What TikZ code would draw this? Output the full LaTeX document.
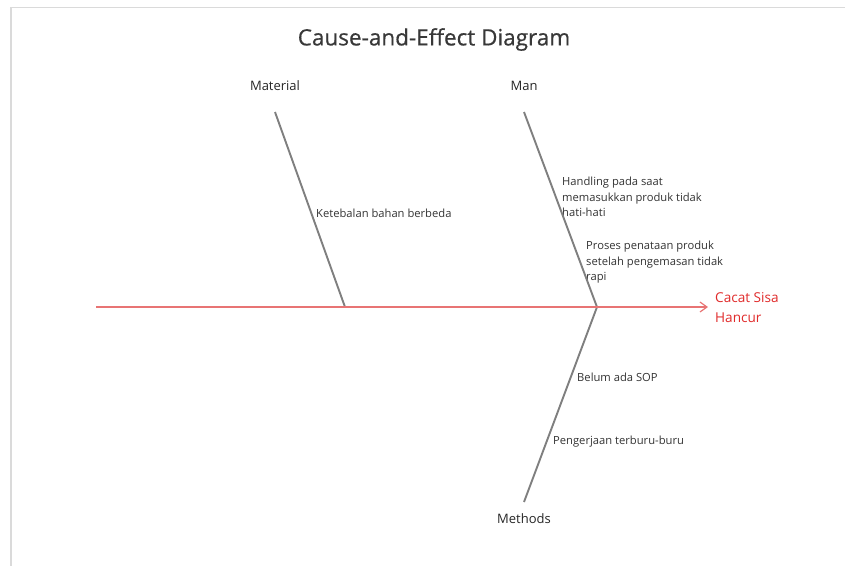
\documentclass[tikz,border=0pt]{standalone}
\usepackage{fontspec}
\setmainfont{Open Sans}
\newfontfamily\headingfont[FakeBold=0.6]{Open Sans}
\usepackage{xcolor}
\usepackage{tikz}
\usetikzlibrary{arrows.meta}
\definecolor{spinered}{HTML}{E87474}
\definecolor{effectred}{HTML}{E02A2A}
\definecolor{bonegray}{HTML}{7F7F7F}
\definecolor{framegray}{HTML}{DADADA}
\tikzstyle{title} = [font=\headingfont\fontsize{22.5}{26}\selectfont, text=black!78, inner sep=0pt]
\tikzstyle{category} = [font=\fontsize{13}{15}\selectfont, text=black!85, inner sep=0pt]
\tikzstyle{cause} = [font=\fontsize{11.2}{15.6}\selectfont, text=black!80, align=left,
    anchor=north west, inner sep=0pt]
\tikzstyle{effect} = [font=\fontsize{13.6}{20}\selectfont, text=effectred, align=left,
    anchor=north west, inner sep=0pt]
\tikzstyle{bone} = [draw, bonegray, line width=1.9pt]
\tikzstyle{spine} = [draw, spinered, line width=2pt, -{Straight Barb[length=7pt,width=10pt,line width=1.2pt]}]

\begin{document}
\begin{tikzpicture}[x=1pt, y=-1pt]
			\useasboundingbox (0,0) rectangle (845,566);
			% frame
			\draw [framegray, line width=1.2pt] (845,7.5) -- (11,7.5) -- (11,566);
			
			% Place nodes
			\node [title] (heading) at (434,39.5) {Cause-and-Effect Diagram};
			\node [category] (material) at (275,86) {Material};
			\node [category] (man) at (524,86) {Man};
			\node [category] (methods) at (524,519) {Methods};
			\node [effect] (problem) at (715,292) {Cacat Sisa\\Hancur};
			
			\coordinate (tail) at (96,307);
			\coordinate (head) at (708,307);
			\coordinate (materialTop) at (275,112);
			\coordinate (materialFoot) at (345,307);
			\coordinate (manTop) at (524,112);
			\coordinate (manFoot) at (597,307);
			\coordinate (methodsEnd) at (524,502);
			
			\node [cause] (thickness) at (316,209) {Ketebalan bahan berbeda};
			\node [cause] (handling) at (562,177) {Handling pada saat\\memasukkan produk tidak\\hati-hati};
			\node [cause] (arranging) at (586,241) {Proses penataan produk\\setelah pengemasan tidak\\rapi};
			\node [cause] (noSOP) at (577,373) {Belum ada SOP};
			\node [cause] (rushing) at (553,436) {Pengerjaan terburu-buru};
			
			\path [bone] (materialTop) -- (materialFoot);
			\path [bone] (manTop) -- (manFoot);
			\path [bone] (manFoot) -- (methodsEnd);
			\path [spine] (tail) -- (head);
	\end{tikzpicture}
\end{document}
